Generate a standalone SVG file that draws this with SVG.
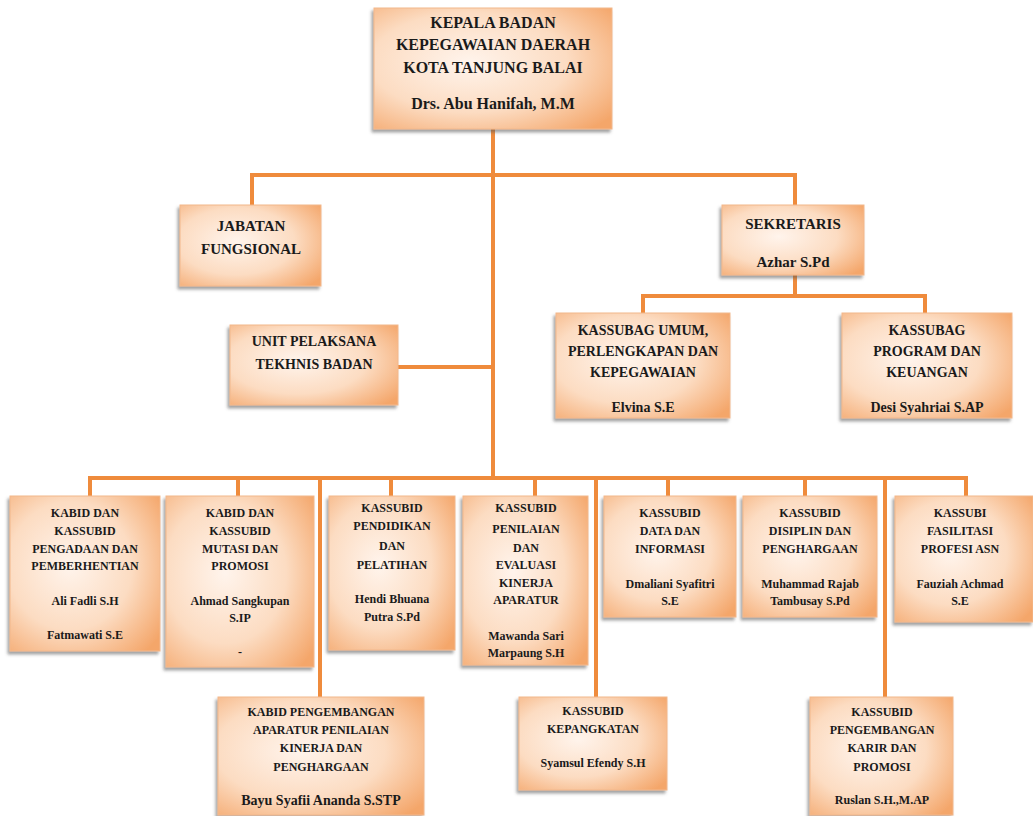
<svg xmlns="http://www.w3.org/2000/svg" width="1033" height="816" viewBox="0 0 1033 816">
<defs>
<radialGradient id="g" cx="40%" cy="45%" r="75%">
<stop offset="0" stop-color="#FFF4EC"/>
<stop offset="0.55" stop-color="#FCDCC2"/>
<stop offset="1" stop-color="#F4A66A"/>
</radialGradient>
<filter id="sh" x="-10%" y="-10%" width="125%" height="125%">
<feDropShadow dx="-2" dy="3" stdDeviation="1.5" flood-color="#555" flood-opacity="0.55"/>
</filter>
</defs>
<style>
.box{fill:url(#g);stroke:#F2B88C;stroke-width:1;filter:url(#sh)}
.c{fill:none;stroke:#EF8B3C;stroke-width:4}
text{font-family:Liberation Serif,DejaVu Serif,serif;font-weight:bold;fill:#1a1a1a;text-anchor:middle}
.t16{font-size:16px}
.t15{font-size:15px}
.t14{font-size:14px}
.t12{font-size:12px}
</style>
<rect width="1033" height="816" fill="#fff"/>
<g id="connectors">
<path class="c" d="M493 128V477"/>
<path class="c" d="M252 205V175H795V205"/>
<path class="c" d="M398 367H493"/>
<path class="c" d="M795 275V296M643 313V296H925V313"/>
<path class="c" d="M90 496V478H966V496"/>
<path class="c" d="M238 478V496"/>
<path class="c" d="M320 478V697"/>
<path class="c" d="M391 478V496"/>
<path class="c" d="M535 478V496"/>
<path class="c" d="M596 478V697"/>
<path class="c" d="M668 478V496"/>
<path class="c" d="M805 478V496"/>
<path class="c" d="M885 478V697"/>
</g>
<g id="kepala">
<rect class="box" x="374" y="8" width="238" height="121"/>
<text class="t16" x="493" y="28">KEPALA BADAN</text>
<text class="t16" x="493" y="50">KEPEGAWAIAN DAERAH</text>
<text class="t16" x="493" y="73">KOTA TANJUNG BALAI</text>
<text class="t16" x="493" y="109">Drs. Abu Hanifah, M.M</text>
</g>
<g id="jabatan">
<rect class="box" x="180" y="205" width="141" height="81"/>
<text class="t15" x="251" y="231">JABATAN</text>
<text class="t15" x="251" y="254">FUNGSIONAL</text>
</g>
<g id="sekretaris">
<rect class="box" x="722" y="205" width="142" height="70"/>
<text class="t15" x="793" y="229">SEKRETARIS</text>
<text class="t15" x="793" y="267">Azhar S.Pd</text>
</g>
<g id="unit">
<rect class="box" x="230" y="325" width="168" height="80"/>
<text class="t14" x="314" y="346">UNIT PELAKSANA</text>
<text class="t14" x="314" y="369">TEKHNIS BADAN</text>
</g>
<g id="kassubag-umum">
<rect class="box" x="556" y="313" width="174" height="105"/>
<text class="t14" x="643" y="335">KASSUBAG UMUM,</text>
<text class="t14" x="643" y="356">PERLENGKAPAN DAN</text>
<text class="t14" x="643" y="377">KEPEGAWAIAN</text>
<text class="t14" x="643" y="412">Elvina S.E</text>
</g>
<g id="kassubag-program">
<rect class="box" x="842" y="313" width="170" height="105"/>
<text class="t14" x="927" y="335">KASSUBAG</text>
<text class="t14" x="927" y="356">PROGRAM DAN</text>
<text class="t14" x="927" y="377">KEUANGAN</text>
<text class="t14" x="927" y="412">Desi Syahriai S.AP</text>
</g>
<g id="pengadaan">
<rect class="box" x="10" y="496" width="150" height="155"/>
<text class="t12" x="85" y="517">KABID  DAN</text>
<text class="t12" x="85" y="535">KASSUBID</text>
<text class="t12" x="85" y="553">PENGADAAN  DAN</text>
<text class="t12" x="85" y="570">PEMBERHENTIAN</text>
<text class="t12" x="85" y="605">Ali Fadli S.H</text>
<text class="t12" x="85" y="639">Fatmawati S.E</text>
</g>
<g id="mutasi">
<rect class="box" x="166" y="496" width="148" height="171"/>
<text class="t12" x="240" y="517">KABID  DAN</text>
<text class="t12" x="240" y="535">KASSUBID</text>
<text class="t12" x="240" y="553">MUTASI  DAN</text>
<text class="t12" x="240" y="570">PROMOSI</text>
<text class="t12" x="240" y="605">Ahmad  Sangkupan</text>
<text class="t12" x="240" y="622">S.IP</text>
<text class="t12" x="240" y="656">-</text>
</g>
<g id="pendidikan">
<rect class="box" x="329" y="496" width="126" height="154"/>
<text class="t12" x="392" y="512">KASSUBID</text>
<text class="t12" x="392" y="530">PENDIDIKAN</text>
<text class="t12" x="392" y="550">DAN</text>
<text class="t12" x="392" y="569">PELATIHAN</text>
<text class="t12" x="392" y="603">Hendi  Bhuana</text>
<text class="t12" x="392" y="621">Putra S.Pd</text>
</g>
<g id="penilaian">
<rect class="box" x="463" y="496" width="125" height="169"/>
<text class="t12" x="526" y="512">KASSUBID</text>
<text class="t12" x="526" y="533">PENILAIAN</text>
<text class="t12" x="526" y="552">DAN</text>
<text class="t12" x="526" y="569">EVALUASI</text>
<text class="t12" x="526" y="587">KINERJA</text>
<text class="t12" x="526" y="604">APARATUR</text>
<text class="t12" x="526" y="640">Mawanda  Sari</text>
<text class="t12" x="526" y="657">Marpaung  S.H</text>
</g>
<g id="data">
<rect class="box" x="604" y="496" width="132" height="121"/>
<text class="t12" x="670" y="517">KASSUBID</text>
<text class="t12" x="670" y="535">DATA  DAN</text>
<text class="t12" x="670" y="553">INFORMASI</text>
<text class="t12" x="670" y="588">Dmaliani  Syafitri</text>
<text class="t12" x="670" y="605">S.E</text>
</g>
<g id="disiplin">
<rect class="box" x="743" y="496" width="134" height="121"/>
<text class="t12" x="810" y="517">KASSUBID</text>
<text class="t12" x="810" y="535">DISIPLIN  DAN</text>
<text class="t12" x="810" y="553">PENGHARGAAN</text>
<text class="t12" x="810" y="588">Muhammad  Rajab</text>
<text class="t12" x="810" y="605">Tambusay  S.Pd</text>
</g>
<g id="fasilitasi">
<rect class="box" x="895" y="496" width="138" height="126"/>
<text class="t12" x="960" y="517">KASSUBI</text>
<text class="t12" x="960" y="535">FASILITASI</text>
<text class="t12" x="960" y="553">PROFESI  ASN</text>
<text class="t12" x="960" y="588">Fauziah  Achmad</text>
<text class="t12" x="960" y="605">S.E</text>
</g>
<g id="pengembangan-aparatur">
<rect class="box" x="218" y="697" width="206" height="118"/>
<text class="t12" x="321" y="716">KABID  PENGEMBANGAN</text>
<text class="t12" x="321" y="734">APARATUR PENILAIAN</text>
<text class="t12" x="321" y="752">KINERJA  DAN</text>
<text class="t12" x="321" y="771">PENGHARGAAN</text>
<text class="t14" x="321" y="805">Bayu Syafii Ananda S.STP</text>
</g>
<g id="kepangkatan">
<rect class="box" x="519" y="697" width="148" height="93"/>
<text class="t12" x="593" y="715">KASSUBID</text>
<text class="t12" x="593" y="733">KEPANGKATAN</text>
<text class="t12" x="593" y="767">Syamsul  Efendy  S.H</text>
</g>
<g id="pengembangan-karir">
<rect class="box" x="810" y="697" width="143" height="118"/>
<text class="t12" x="882" y="716">KASSUBID</text>
<text class="t12" x="882" y="734">PENGEMBANGAN</text>
<text class="t12" x="882" y="752">KARIR  DAN</text>
<text class="t12" x="882" y="771">PROMOSI</text>
<text class="t12" x="882" y="804">Ruslan  S.H.,M.AP</text>
</g>
</svg>
